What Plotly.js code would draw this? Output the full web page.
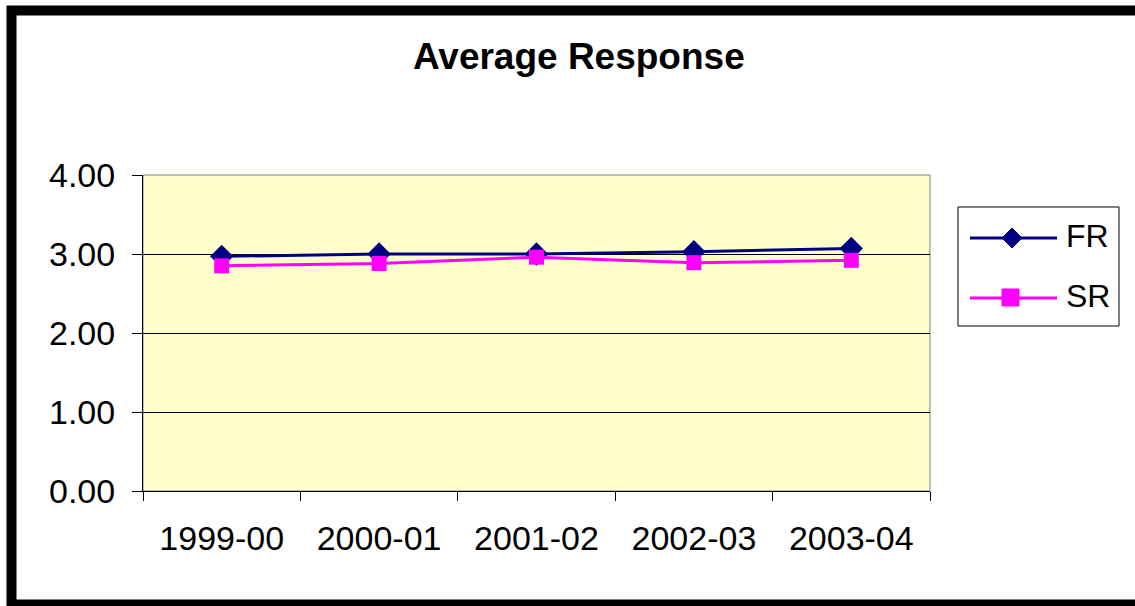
<!DOCTYPE html>
<html><head><meta charset="utf-8">
<script src="https://cdn.plot.ly/plotly-3.0.1.min.js"></script>
<style>html,body{margin:0;padding:0;background:#fff;overflow:hidden}#chart{width:1135px;height:606px}</style>
</head><body><div id="chart"></div>
<script>
const categories = ['1999-00','2000-01','2001-02','2002-03','2003-04'];
const frValues = [2.97, 3.00, 3.00, 3.03, 3.07];
const srValues = [2.85, 2.88, 2.96, 2.89, 2.92];
const yTickVals = [0, 1, 2, 3, 4];
const yTickText = ['0.00','1.00','2.00','3.00','4.00'];
const seriesNames = ['FR','SR'];

const L = 143, R = 930, T = 175, B = 491;
const px = x => (x - L) / (R - L);
const py = y => (B - y) / (B - T);

const traces = [
  {x: categories, y: frValues, name: seriesNames[0], type: 'scatter', mode: 'lines+markers',
   line: {color: '#000080', width: 3}, marker: {symbol: 'diamond', size: 18, color: '#000080'}},
  {x: categories, y: srValues, name: seriesNames[1], type: 'scatter', mode: 'lines+markers',
   line: {color: '#FF00FF', width: 3}, marker: {symbol: 'square', size: 15, color: '#FF00FF'}}
];

const font = 'Liberation Sans, Arial, sans-serif';
const shapes = [
  {type: 'rect', xref: 'paper', yref: 'paper', x0: 0, x1: 1, y0: 0, y1: 1,
   line: {color: '#808080', width: 1}, layer: 'below'},
  {type: 'rect', xref: 'paper', yref: 'paper', x0: px(11.5), x1: px(1145), y0: py(604.5), y1: py(10.5),
   line: {color: '#000', width: 10}},
  {type: 'rect', xref: 'paper', yref: 'paper', x0: px(958), x1: px(1119), y0: py(326), y1: py(207),
   line: {color: '#000', width: 1}, fillcolor: '#fff'},
  {type: 'line', xref: 'paper', yref: 'paper', x0: px(970), x1: px(1057), y0: py(238), y1: py(238),
   line: {color: '#000080', width: 3}},
  {type: 'path', xref: 'paper', yref: 'paper',
   path: `M ${px(1002)} ${py(238)} L ${px(1012)} ${py(228)} L ${px(1022)} ${py(238)} L ${px(1012)} ${py(248)} Z`,
   fillcolor: '#000080', line: {color: '#000080', width: 1}},
  {type: 'line', xref: 'paper', yref: 'paper', x0: px(970), x1: px(1057), y0: py(298), y1: py(298),
   line: {color: '#FF00FF', width: 3}},
  {type: 'rect', xref: 'paper', yref: 'paper', x0: px(1002), x1: px(1019), y0: py(306), y1: py(289),
   fillcolor: '#FF00FF', line: {color: '#FF00FF', width: 1}}
];

const annotations = [
  {xref: 'paper', yref: 'paper', x: px(1064), y: py(236), xanchor: 'left', yanchor: 'middle',
   text: seriesNames[0], showarrow: false, font: {family: font, size: 32, color: '#000'}},
  {xref: 'paper', yref: 'paper', x: px(1064), y: py(296), xanchor: 'left', yanchor: 'middle',
   text: seriesNames[1], showarrow: false, font: {family: font, size: 32, color: '#000'}}
];

const layout = {
  width: 1135, height: 606,
  margin: {l: L, r: 1135 - R, t: T, b: 606 - B, pad: 0},
  paper_bgcolor: '#fff', plot_bgcolor: '#FFFFCC',
  title: {text: '<b>Average Response</b>', font: {family: font, size: 37, color: '#000'},
          x: 0.51, xanchor: 'center', y: 0.908, yanchor: 'middle'},
  showlegend: false,
  xaxis: {type: 'category', range: [-0.5, 4.5], tickson: 'boundaries', ticks: 'outside', ticklen: 9, tickcolor: '#000',
          showline: true, linecolor: '#000', linewidth: 1, showgrid: false, zeroline: false,
          tickfont: {family: font, size: 34, color: '#000'}, ticklabelstandoff: 17, fixedrange: true},
  yaxis: {range: [0, 4], tickvals: yTickVals, ticktext: yTickText, ticks: 'outside', ticklen: 10,
          tickcolor: '#000', showline: true, linecolor: '#000', linewidth: 1,
          showgrid: true, gridcolor: '#000', gridwidth: 1, zeroline: false,
          tickfont: {family: font, size: 34, color: '#000'}, ticklabelstandoff: 10},
  shapes: shapes, annotations: annotations
};

Plotly.newPlot('chart', traces, layout, {displayModeBar: false, staticPlot: true});
</script>
</body></html>
